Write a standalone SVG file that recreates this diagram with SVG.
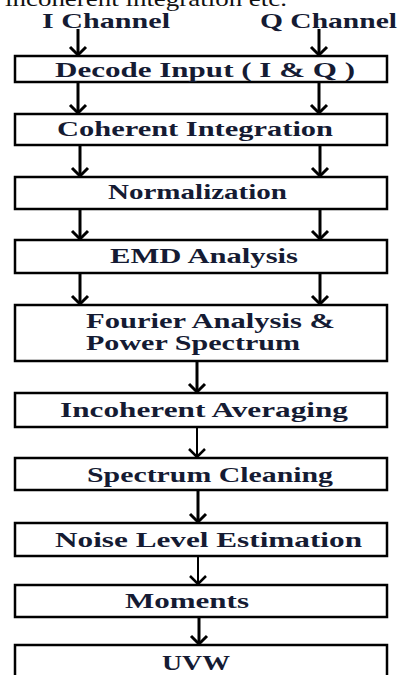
<svg xmlns="http://www.w3.org/2000/svg" width="401" height="675" viewBox="0 0 401 675">
<defs>
<marker id="ah" markerUnits="userSpaceOnUse" markerWidth="14" markerHeight="20" refX="11" refY="10" orient="auto" viewBox="0 0 14 20">
<path d="M3,2 L11,10 L3,18" fill="none" stroke="#000" stroke-width="3"/>
</marker>
<marker id="ah2" markerUnits="userSpaceOnUse" markerWidth="14" markerHeight="20" refX="11" refY="10" orient="auto" viewBox="0 0 14 20">
<path d="M3,2 L11,10 L3,18" fill="none" stroke="#000" stroke-width="2.5"/>
</marker>
</defs>
<style>
.box{fill:#fff;stroke:#000;stroke-width:2.5}
.t{font-family:"Liberation Serif","Times New Roman",serif;font-weight:bold;font-size:21px;fill:#151b33}
.c{stroke:#000;stroke-width:3;fill:none;marker-end:url(#ah)}
.c2{stroke:#000;stroke-width:2;fill:none;marker-end:url(#ah2)}
</style>
<rect width="401" height="675" fill="#fff"/>
<text x="5" y="5.5" font-family="'Liberation Serif','Times New Roman',serif" font-size="21" fill="#111" textLength="282" lengthAdjust="spacingAndGlyphs">incoherent integration etc.</text>
<g id="connectors">
<path class="c" d="M78,29 V55"/>
<path class="c" d="M319,29 V55"/>
<path class="c" d="M78,83 V113"/>
<path class="c" d="M319,83 V113"/>
<path class="c" d="M80,146 V176"/>
<path class="c" d="M320,146 V176"/>
<path class="c" d="M80,210 V239"/>
<path class="c" d="M320,210 V239"/>
<path class="c" d="M80,274 V304"/>
<path class="c" d="M320,274 V304"/>
<path class="c" d="M197,362 V392"/>
<path class="c2" d="M197,428 V457"/>
<path class="c" d="M198,491 V522"/>
<path class="c2" d="M198,557 V584"/>
<path class="c" d="M199,618 V644"/>
</g>
<g id="iChannel"><text class="t" x="42" y="27.5" font-size="17" textLength="128" lengthAdjust="spacingAndGlyphs">I Channel</text></g>
<g id="qChannel"><text class="t" x="260" y="27.5" font-size="17" textLength="137" lengthAdjust="spacingAndGlyphs">Q Channel</text></g>
<g id="decode"><rect class="box" x="15" y="56" width="372" height="26"/><text class="t" x="55" y="77" textLength="300" lengthAdjust="spacingAndGlyphs">Decode Input ( I &amp; Q )</text></g>
<g id="coherent"><rect class="box" x="15" y="114" width="372" height="31"/><text class="t" x="57" y="136" textLength="276" lengthAdjust="spacingAndGlyphs">Coherent Integration</text></g>
<g id="normalization"><rect class="box" x="15" y="177" width="372" height="32"/><text class="t" x="108" y="199" textLength="179" lengthAdjust="spacingAndGlyphs">Normalization</text></g>
<g id="emd"><rect class="box" x="15" y="240" width="372" height="33"/><text class="t" x="110" y="263" textLength="188" lengthAdjust="spacingAndGlyphs">EMD Analysis</text></g>
<g id="fourier"><rect class="box" x="15" y="305" width="372" height="56"/><text class="t" x="86" y="328" textLength="249" lengthAdjust="spacingAndGlyphs">Fourier Analysis &amp;</text><text class="t" x="86" y="350" textLength="214" lengthAdjust="spacingAndGlyphs">Power Spectrum</text></g>
<g id="incoherent"><rect class="box" x="15" y="393" width="372" height="34"/><text class="t" x="60" y="417" textLength="288" lengthAdjust="spacingAndGlyphs">Incoherent Averaging</text></g>
<g id="cleaning"><rect class="box" x="15" y="458" width="372" height="32"/><text class="t" x="87" y="482" textLength="246" lengthAdjust="spacingAndGlyphs">Spectrum Cleaning</text></g>
<g id="noise"><rect class="box" x="15" y="523" width="372" height="33"/><text class="t" x="55" y="547" textLength="307" lengthAdjust="spacingAndGlyphs">Noise Level Estimation</text></g>
<g id="moments"><rect class="box" x="15" y="585" width="372" height="32"/><text class="t" x="125" y="608" textLength="124" lengthAdjust="spacingAndGlyphs">Moments</text></g>
<g id="uvw"><rect class="box" x="15" y="645" width="372" height="40"/><text class="t" x="162" y="670" textLength="68" lengthAdjust="spacingAndGlyphs">UVW</text></g>
</svg>
